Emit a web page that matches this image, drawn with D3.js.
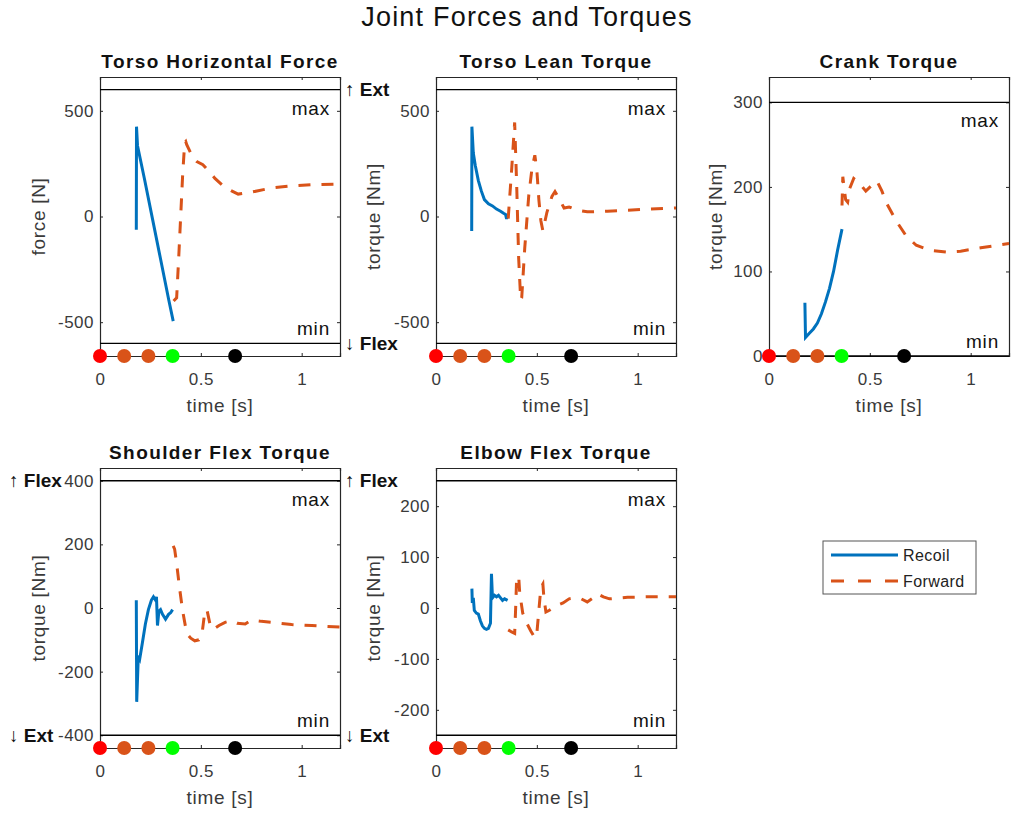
<!DOCTYPE html>
<html lang="en">
<head>
    <meta charset="utf-8" />
    <title>Joint Forces and Torques</title>
    <script src="https://cdn.jsdelivr.net/npm/d3@7"></script>
    <style type="text/css">
        body { margin: 0; background: #fff; }
        svg text { font-family: "Liberation Sans", Arial, Helvetica, sans-serif; fill: #262626; }
        .axis text { font-size: 17px; fill: #3a3a3a; letter-spacing: 0.5px; }
        .axis line, .axis path { stroke: #262626; }
        .label { font-size: 19px; fill: #3a3a3a; letter-spacing: 0.7px; }
        .limit-text { font-size: 19px; fill: #111; letter-spacing: 0.8px; }
        .subtitle { font-size: 19px; font-weight: bold; fill: #111; letter-spacing: 1.4px; }
        .side-text { font-size: 19px; font-weight: bold; fill: #111; }
        .legend-text { font-size: 16px; fill: #222; letter-spacing: 0.4px; }
    </style>
</head>
<body>
    <svg id="canvas" width="1012" height="814" xmlns="http://www.w3.org/2000/svg"></svg>
    <script type="text/javascript">
        // events along the bottom of every panel
        var eventTimes = [0, 0.12, 0.24, 0.36, 0.67];
        var eventColors = ["#ff0000", "#d95319", "#d95319", "#00ff00", "#000000"];

        var timeLimits = [0, 1.19];
        var timeTicks = [0, 0.5, 1];
        var seriesNames = ["Recoil", "Forward"];

        // [time, value]
        var torsoForceRecoil = [[0.180, -63], [0.181, 425], [0.186, 335], [0.22, 180], [0.26, -10],
            [0.30, -200], [0.34, -390], [0.363, -495]];
        var torsoForceForward = [[0.365, -400], [0.38, -385], [0.39, -200], [0.40, 0], [0.41, 200],
            [0.42, 350], [0.425, 355], [0.43, 340], [0.46, 280], [0.48, 260], [0.51, 245], [0.54, 215],
            [0.57, 180], [0.61, 145], [0.65, 122], [0.685, 106], [0.75, 115], [0.85, 135], [0.95, 145],
            [1.05, 150], [1.19, 153]];
        var torsoForceTicks = [-500, 0, 500];

        var torsoLeanRecoil = [[0.177, -69], [0.178, 425], [0.185, 300], [0.195, 240], [0.21, 170],
            [0.225, 120], [0.24, 80], [0.26, 60], [0.28, 50], [0.30, 35], [0.32, 25], [0.335, 15],
            [0.345, 10], [0.35, -12], [0.352, 8]];
        var torsoLeanForward = [[0.358, -10], [0.375, 220], [0.39, 445], [0.40, 150], [0.41, -200],
            [0.42, -395], [0.425, -385], [0.44, -150], [0.46, 100], [0.475, 220], [0.49, 290],
            [0.50, 220], [0.51, 80], [0.52, -20], [0.53, -68], [0.55, 20], [0.575, 95], [0.59, 118],
            [0.61, 85], [0.635, 40], [0.66, 45], [0.70, 30], [0.75, 22], [0.85, 25], [0.95, 30],
            [1.05, 35], [1.19, 40]];
        var torsoLeanTicks = [-500, 0, 500];

        var crankRecoil = [[0.178, 63], [0.181, 22], [0.20, 27], [0.22, 32], [0.24, 39], [0.26, 50],
            [0.28, 64], [0.30, 80], [0.32, 100], [0.34, 125], [0.362, 150]];
        var crankForward = [[0.362, 178], [0.366, 212], [0.372, 200], [0.38, 185], [0.39, 182],
            [0.40, 198], [0.42, 210], [0.45, 204], [0.48, 195], [0.51, 202], [0.535, 207], [0.56, 195],
            [0.58, 182], [0.63, 160], [0.68, 142], [0.73, 131], [0.80, 125], [0.88, 123], [0.95, 124],
            [1.05, 128], [1.19, 133]];
        var crankTicks = [0, 100, 200, 300];

        var shoulderRecoil = [[0.18, 24], [0.182, -295], [0.19, -150], [0.197, -160], [0.21, -110],
            [0.225, -50], [0.24, -5], [0.255, 25], [0.265, 35], [0.275, 25], [0.28, 35], [0.285, -55],
            [0.292, -10], [0.30, -5], [0.31, -20], [0.325, -35], [0.34, -20], [0.35, -15], [0.36, -5]];
        var shoulderForward = [[0.363, 195], [0.37, 185], [0.38, 140], [0.395, 60], [0.41, -10],
            [0.43, -80], [0.45, -95], [0.47, -103], [0.49, -100], [0.505, -85], [0.52, -10], [0.53, -5],
            [0.545, -50], [0.56, -68], [0.59, -55], [0.62, -45], [0.65, -40], [0.68, -48], [0.72, -50],
            [0.75, -38], [0.80, -42], [0.85, -45], [0.95, -52], [1.05, -55], [1.19, -60]];
        var shoulderTicks = [-400, -200, 0, 200, 400];

        var elbowRecoil = [[0.178, 38], [0.18, 10], [0.185, 20], [0.19, -5], [0.20, -10], [0.21, -12],
            [0.22, -25], [0.23, -35], [0.24, -40], [0.25, -42], [0.26, -40], [0.27, -30], [0.275, 67],
            [0.28, 20], [0.29, 25], [0.30, 22], [0.31, 25], [0.32, 20], [0.33, 15], [0.34, 18], [0.355, 15]];
        var elbowForward = [[0.358, -43], [0.375, -47], [0.39, -50], [0.395, 0], [0.40, 60], [0.41, 62],
            [0.415, 30], [0.43, -10], [0.45, -30], [0.47, -45], [0.49, -59], [0.50, -50], [0.51, -5],
            [0.52, 40], [0.53, 47], [0.535, 20], [0.545, -8], [0.56, -5], [0.58, 0], [0.60, 5], [0.63, 10],
            [0.66, 18], [0.69, 20], [0.72, 18], [0.75, 12], [0.78, 20], [0.80, 28], [0.83, 22],
            [0.86, 18], [0.95, 21], [1.05, 22], [1.19, 22]];
        var elbowTicks = [-200, -100, 0, 100, 200];

        var panels = [
            { title: "Torso Horizontal Force", ylabel: "force [N]", ylim: [-660, 660], limits: [-600, 600],
              ticks: torsoForceTicks, recoil: torsoForceRecoil, forward: torsoForceForward,
              left: 100, top: 77, height: 279, labelOffset: 62 },
            { title: "Torso Lean Torque", ylabel: "torque [Nm]", ylim: [-660, 660], limits: [-600, 600],
              ticks: torsoLeanTicks, recoil: torsoLeanRecoil, forward: torsoLeanForward,
              up: "\u2191 Ext", down: "\u2193 Flex",
              left: 436, top: 77, height: 279, labelOffset: 63 },
            { title: "Crank Torque", ylabel: "torque [Nm]", ylim: [0, 330], limits: [0, 300],
              ticks: crankTicks, recoil: crankRecoil, forward: crankForward,
              left: 769, top: 77, height: 279, labelOffset: 54 },
            { title: "Shoulder Flex Torque", ylabel: "torque [Nm]", ylim: [-440, 440], limits: [-400, 400],
              ticks: shoulderTicks, recoil: shoulderRecoil, forward: shoulderForward,
              up: "\u2191 Flex", down: "\u2193 Ext",
              left: 100, top: 468, height: 280, labelOffset: 62 },
            { title: "Elbow Flex Torque", ylabel: "torque [Nm]", ylim: [-275, 275], limits: [-250, 250],
              ticks: elbowTicks, recoil: elbowRecoil, forward: elbowForward,
              up: "\u2191 Flex", down: "\u2193 Ext",
              left: 436, top: 468, height: 280, labelOffset: 63 }
        ];

        var width = 240;
        var blue = "#0072bd", orange = "#d95319";
        var dash = "12,11";
        var svg = d3.select("#canvas");

        svg.append("text")
            .attr("x", 527).attr("y", 26)
            .attr("text-anchor", "middle")
            .style("font-size", "27px").style("letter-spacing", "1.2px").style("fill", "#111")
            .text("Joint Forces and Torques");

        panels.forEach(function (p) {
            var bottom = p.top + p.height;
            var x = d3.scaleLinear().domain(timeLimits).range([p.left, p.left + width]);
            var y = d3.scaleLinear().domain(p.ylim).range([bottom, p.top]);
            var g = svg.append("g");
            var fmt = function (d) { return String(d); };

            g.append("rect")
                .attr("x", p.left).attr("y", p.top)
                .attr("width", width).attr("height", p.height)
                .attr("fill", "#fff");

            g.append("g").attr("class", "axis")
                .attr("transform", "translate(" + p.left + ",0)")
                .call(d3.axisLeft(y).tickValues(p.ticks).tickFormat(fmt).tickSize(-3).tickPadding(6));
            g.append("g").attr("class", "axis")
                .attr("transform", "translate(" + (p.left + width) + ",0)")
                .call(d3.axisRight(y).tickValues(p.ticks).tickFormat("").tickSize(-3));
            g.append("g").attr("class", "axis")
                .attr("transform", "translate(0," + bottom + ")")
                .call(d3.axisBottom(x).tickValues(timeTicks).tickFormat(fmt).tickSize(-3).tickPadding(17));
            g.append("g").attr("class", "axis")
                .attr("transform", "translate(0," + p.top + ")")
                .call(d3.axisTop(x).tickValues(timeTicks).tickFormat("").tickSize(-3));
            g.selectAll(".axis path").attr("stroke", "#555").attr("stroke-width", 1.2);

            // max / min limit lines
            g.selectAll(".limit")
                .data(p.limits)
                .enter().append("line")
                .attr("x1", p.left).attr("x2", p.left + width)
                .attr("y1", function (d) { return y(d); })
                .attr("y2", function (d) { return y(d); })
                .attr("stroke", "#000").attr("stroke-width", 1.3);
            g.append("text").attr("class", "limit-text")
                .attr("x", p.left + width - 10).attr("y", y(p.limits[1]) + 25)
                .attr("text-anchor", "end").text("max");
            g.append("text").attr("class", "limit-text")
                .attr("x", p.left + width - 10).attr("y", y(p.limits[0]) - 8)
                .attr("text-anchor", "end").text("min");

            var line = d3.line()
                .x(function (d) { return x(d[0]); })
                .y(function (d) { return y(d[1]); });
            g.append("path").datum(p.recoil)
                .attr("d", line).attr("fill", "none")
                .attr("stroke", blue).attr("stroke-width", 3);
            g.append("path").datum(p.forward)
                .attr("d", line).attr("fill", "none")
                .attr("stroke", orange).attr("stroke-width", 3)
                .attr("stroke-dasharray", dash);

            g.selectAll(".event")
                .data(eventTimes)
                .enter().append("circle")
                .attr("cx", function (d) { return x(d); })
                .attr("cy", bottom)
                .attr("r", 7)
                .attr("fill", function (d, i) { return eventColors[i]; });

            g.append("text").attr("class", "subtitle")
                .attr("x", p.left + width / 2).attr("y", p.top - 9)
                .attr("text-anchor", "middle").text(p.title);
            g.append("text").attr("class", "label")
                .attr("x", p.left + width / 2).attr("y", bottom + 56)
                .attr("text-anchor", "middle").text("time [s]");
            g.append("text").attr("class", "label")
                .attr("transform", "translate(" + (p.left - p.labelOffset) + "," + (p.top + p.height / 2) + ") rotate(-90)")
                .attr("dy", "0.35em")
                .attr("text-anchor", "middle").text(p.ylabel);

            if (p.up) {
                g.append("text").attr("class", "side-text")
                    .attr("x", p.left - 91).attr("y", y(p.limits[1]))
                    .attr("dy", "0.35em").text(p.up);
                g.append("text").attr("class", "side-text")
                    .attr("x", p.left - 91).attr("y", y(p.limits[0]))
                    .attr("dy", "0.35em").text(p.down);
            }
        });

        // legend
        var legend = svg.append("g");
        legend.append("rect")
            .attr("x", 823).attr("y", 541).attr("width", 153).attr("height", 53)
            .attr("fill", "#fff").attr("stroke", "#555").attr("stroke-width", 1);
        legend.selectAll(".entry")
            .data(seriesNames)
            .enter().append("g")
            .each(function (name, i) {
                var row = d3.select(this);
                var ly = 555 + i * 26;
                row.append("line")
                    .attr("x1", 831).attr("x2", 898).attr("y1", ly).attr("y2", ly)
                    .attr("stroke", i === 0 ? blue : orange).attr("stroke-width", 3)
                    .attr("stroke-dasharray", i === 0 ? null : "13,14");
                row.append("text").attr("class", "legend-text")
                    .attr("x", 903).attr("y", ly).attr("dy", "0.35em").text(name);
            });
    </script>
</body>
</html>
